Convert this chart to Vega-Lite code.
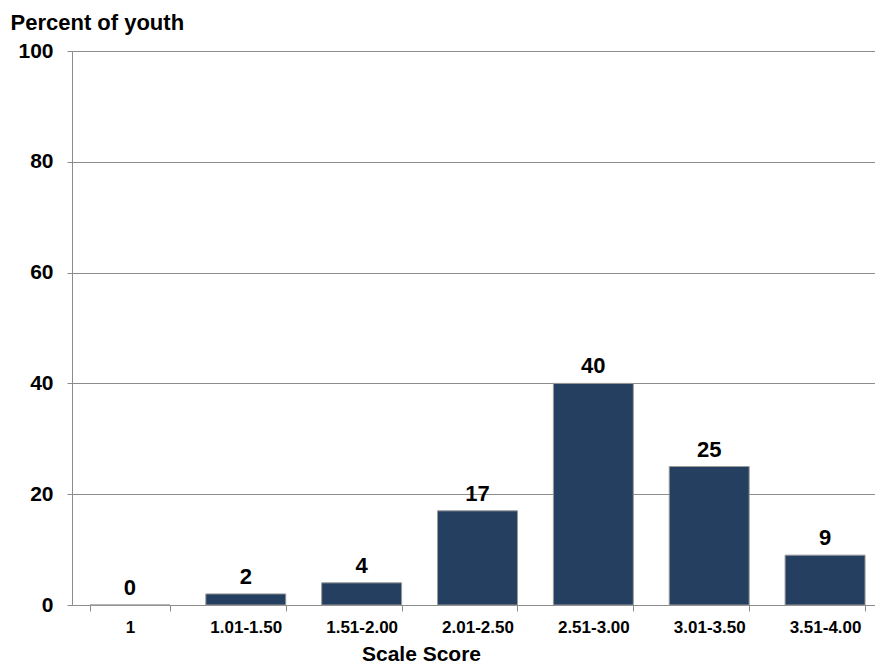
{
  "$schema": "https://vega.github.io/schema/vega-lite/v6.json",
  "width": 803,
  "height": 554,
  "autosize": {"type": "none"},
  "padding": {"left": 72, "top": 51, "right": 0, "bottom": 60},
  "background": "#ffffff",
  "config": {"view": {"stroke": null}, "font": "Liberation Sans"},
  "data": {
    "values": [
      {"bin": "1", "pct": 0},
      {"bin": "1.01-1.50", "pct": 2},
      {"bin": "1.51-2.00", "pct": 4},
      {"bin": "2.01-2.50", "pct": 17},
      {"bin": "2.51-3.00", "pct": 40},
      {"bin": "3.01-3.50", "pct": 25},
      {"bin": "3.51-4.00", "pct": 9}
    ]
  },
  "encoding": {
    "x": {
      "field": "bin",
      "type": "nominal",
      "sort": null,
      "scale": {"range": [0, 811], "paddingInner": 0.31, "paddingOuter": 0.155},
      "axis": {
        "title": "Scale Score",
        "titleFontSize": 21,
        "titleFontWeight": "bold",
        "titleColor": "#000000",
        "titleX": 349,
        "titleY": 55,
        "titleAlign": "center",
        "titleBaseline": "alphabetic",
        "labelAngle": 0,
        "labelFontSize": 17,
        "labelFontWeight": "bold",
        "labelColor": "#000000",
        "labelPadding": 8,
        "tickBand": "extent",
        "tickSize": 6,
        "tickColor": "#8c8c8c",
        "domainColor": "#8c8c8c",
        "grid": false
      }
    },
    "y": {
      "field": "pct",
      "type": "quantitative",
      "scale": {"domain": [0, 100]},
      "axis": {
        "values": [0, 20, 40, 60, 80, 100],
        "title": "Percent of youth",
        "titleAngle": 0,
        "titleX": -62,
        "titleY": -22,
        "titleAlign": "left",
        "titleBaseline": "alphabetic",
        "titleFontSize": 22,
        "titleFontWeight": "bold",
        "titleColor": "#000000",
        "labelFontSize": 21,
        "labelFontWeight": "bold",
        "labelColor": "#000000",
        "labelPadding": 14,
        "tickSize": 5,
        "tickColor": "#8c8c8c",
        "domainColor": "#8c8c8c",
        "gridColor": "#8c8c8c",
        "gridOpacity": 1
      }
    }
  },
  "layer": [
    {"mark": {"type": "bar", "color": "#243F60", "stroke": "#9a9a9a", "strokeWidth": 1}},
    {
      "mark": {"type": "text", "dy": -10, "baseline": "alphabetic", "fontSize": 22, "fontWeight": "bold", "color": "#000000"},
      "encoding": {"text": {"field": "pct", "type": "quantitative"}}
    }
  ]
}
